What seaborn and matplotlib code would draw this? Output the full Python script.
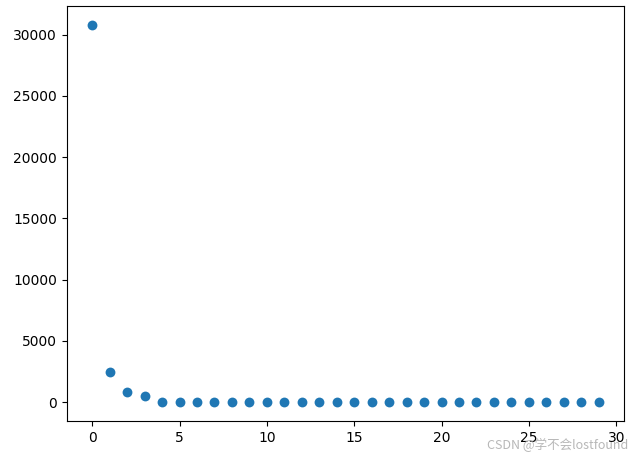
import matplotlib
matplotlib.use("Agg")
import matplotlib.pyplot as plt
import seaborn as sns

# values
x = list(range(30))
y = [30800, 2440, 810, 510, 40, 10, 5, 5, 5, 5,
     5, 5, 5, 5, 5, 5, 5, 5, 5, 5,
     5, 5, 5, 5, 5, 5, 5, 5, 5, 5]

fig = plt.figure(figsize=(6.31, 4.54), dpi=100)
ax = fig.add_axes([0.106, 0.073, 0.883, 0.914])
sns.scatterplot(x=x, y=y, ax=ax, color="#1f77b4", s=50, linewidth=0)

ax.set_xticks([0, 5, 10, 15, 20, 25, 30])
ax.set_yticks([0, 5000, 10000, 15000, 20000, 25000, 30000])

# CSDN watermark in the bottom right corner
fig.text(0.995, 0.005, "CSDN @学不会lostfound", ha="right", va="bottom",
         fontsize=9, color="#b0b0b0", alpha=0.9,
         family=["Noto Sans CJK SC", "DejaVu Sans"])

fig.savefig("out.png", dpi=100)
